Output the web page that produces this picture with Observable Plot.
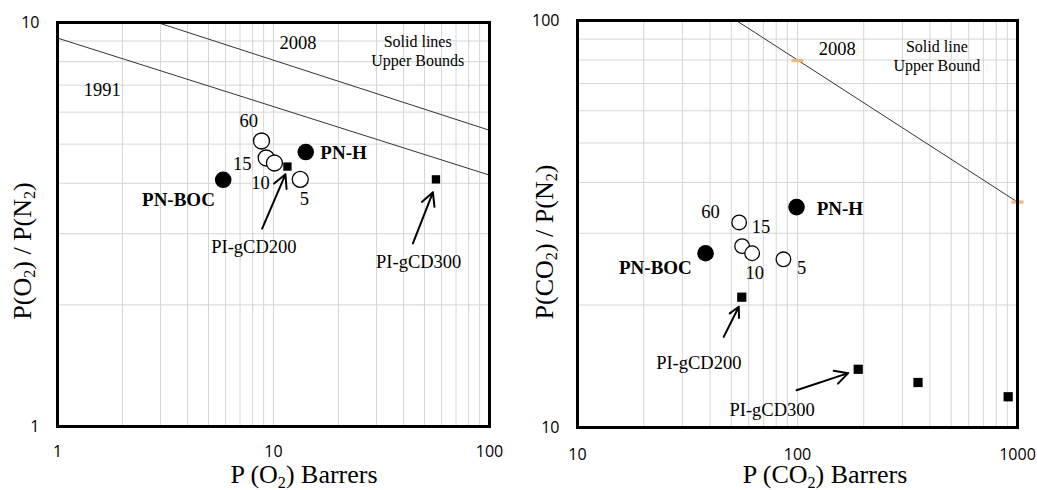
<!DOCTYPE html>
<html><head><meta charset="utf-8">
<script src="https://cdn.jsdelivr.net/npm/d3@7"></script>
<script src="https://cdn.jsdelivr.net/npm/@observablehq/plot@0.6"></script>
<style>
body{margin:0;background:#fff;}
#wrap{position:relative;width:1037px;height:490px;overflow:hidden;background:#fff;}
.panel{position:absolute;top:0;}
.title{position:absolute;font-family:"Liberation Serif",serif;font-size:26px;white-space:nowrap;color:#000;line-height:0.85;}
.title sub{font-size:0.62em;vertical-align:-0.28em;line-height:0;}
.xt{transform:translateX(-50%);}
.yt{transform:translate(-50%,-50%) rotate(-90deg);}
</style></head><body><div id="wrap"></div>
<script>
// ---------- Left panel: O2 / N2 ----------
const o2GridX = [1,2,3,4,5,6,7,8,9,10,20,30,40,50,60,70,80,90,100];
const o2GridY = [1,2,3,4,5,6,7,8,9,10];
const o2TickX = [1,10,100];
const o2TickY = [1,10];
const o2FilledX = [5.85, 14.1];          // PN-BOC, PN-H
const o2FilledY = [4.08, 4.78];
const o2OpenX = [8.8, 9.25, 10.1, 13.3]; // 60, 15, 10, 5
const o2OpenY = [5.09, 4.62, 4.49, 4.09];
const o2SquareX = [11.6, 56.5];          // PI-gCD200, PI-gCD300
const o2SquareY = [4.40, 4.09];
const o2Bound1991X = [1, 100];
const o2Bound1991Y = [9.15, 4.19];
const o2Bound2008X = [2.9, 100];
const o2Bound2008Y = [10, 5.41];
const o2ArrowX1 = [8.86, 44.2];
const o2ArrowY1 = [3.09, 2.84];
const o2ArrowX2 = [11.36, 54.7];
const o2ArrowY2 = [4.21, 3.80];
const o2LabelText = ["1991", "2008", "60", "15", "10", "5", "PI-gCD200", "PI-gCD300"];
const o2LabelX = [1.61, 13.0, 7.69, 7.17, 8.71, 13.9, 8.11, 47];
const o2LabelY = [6.8, 8.89, 5.69, 4.46, 4.0, 3.65, 2.78, 2.55];
const o2NoteText = ["Solid lines\nUpper Bounds"];
const o2NoteX = [46.5];
const o2NoteY = [8.53];
const o2BoldText = ["PN-BOC", "PN-H"];
const o2BoldX = [3.63, 21.1];
const o2BoldY = [3.64, 4.75];

// ---------- Right panel: CO2 / N2 ----------
const co2GridX = [10,20,30,40,50,60,70,80,90,100,200,300,400,500,600,700,800,900,1000];
const co2GridY = [10,20,30,40,50,60,70,80,90,100];
const co2TickX = [10,100,1000];
const co2TickY = [10,100];
const co2FilledX = [38.2, 99];
const co2FilledY = [26.8, 34.8];
const co2OpenX = [54.3, 56.0, 62.2, 86.3];
const co2OpenY = [31.9, 27.9, 26.8, 25.9];
const co2SquareX = [55.8, 188.8, 353, 907];
const co2SquareY = [20.9, 13.9, 12.9, 11.9];
const co2Bound2008X = [52.7, 1000];
const co2Bound2008Y = [100, 35.8];
const co2MarkX = [100, 1000];
const co2MarkY = [79.7, 35.8];
const co2ArrowX1 = [46.2, 99];
const co2ArrowY1 = [16.7, 12.35];
const co2ArrowX2 = [54.1, 170];
const co2ArrowY2 = [19.8, 13.6];
const co2LabelText = ["2008", "60", "15", "10", "5", "PI-gCD200", "PI-gCD300"];
const co2LabelX = [151.6, 40.2, 68.3, 63.9, 104.3, 35.6, 76.7];
const co2LabelY = [85.1, 33.8, 31.0, 24.0, 24.7, 14.36, 11.03];
const co2NoteText = ["Solid line\nUpper Bound"];
const co2NoteX = [430];
const co2NoteY = [82.2];
const co2BoldText = ["PN-BOC", "PN-H"];
const co2BoldX = [22.6, 155.8];
const co2BoldY = [24.7, 34.4];

const SERIF = "Liberation Serif";
const SANS = "Open Sans";
const idx = a => a.map((_, i) => i);

const dash = {draw(ctx) { const w = 6, h = 1.6; ctx.moveTo(-w,-h); ctx.lineTo(w,-h); ctx.lineTo(w,h); ctx.lineTo(-w,h); ctx.closePath(); }};

function panel(cfg) {
  const marks = [
    Plot.gridX(cfg.gridX, {stroke: "#d6d6d6", strokeOpacity: 1, strokeWidth: 1}),
    Plot.gridY(cfg.gridY, {stroke: "#d6d6d6", strokeOpacity: 1, strokeWidth: 1}),
  ];
  for (const b of cfg.bounds) {
    marks.push(Plot.line(idx(b.x), {x: i => b.x[i], y: i => b.y[i], stroke: "#333", strokeWidth: 1, clip: true}));
  }
  if (cfg.markX) {
    marks.push(Plot.dot(idx(cfg.markX), {x: i => cfg.markX[i], y: i => cfg.markY[i], symbol: dash, fill: "#f0b67c", stroke: "none"}));
  }
  marks.push(
    Plot.dot(idx(cfg.openX), {x: i => cfg.openX[i], y: i => cfg.openY[i], r: cfg.rOpen, fill: "white", stroke: "black", strokeWidth: 1.3}),
    Plot.dot(idx(cfg.filledX), {x: i => cfg.filledX[i], y: i => cfg.filledY[i], r: cfg.rFilled, fill: "black", stroke: "none"}),
    Plot.dot(idx(cfg.squareX), {x: i => cfg.squareX[i], y: i => cfg.squareY[i], r: cfg.rSquare, symbol: "square", fill: "black", stroke: "none"}),
    Plot.arrow(idx(cfg.ax1), {x1: i => cfg.ax1[i], y1: i => cfg.ay1[i], x2: i => cfg.ax2[i], y2: i => cfg.ay2[i], stroke: "black", strokeWidth: 2, headLength: 11, headAngle: 55}),
    Plot.text(idx(cfg.labelText), {x: i => cfg.labelX[i], y: i => cfg.labelY[i], text: i => cfg.labelText[i], fontFamily: SERIF, fontSize: 18.5, fill: "black"}),
    Plot.text(idx(cfg.noteText), {x: i => cfg.noteX[i], y: i => cfg.noteY[i], text: i => cfg.noteText[i], fontFamily: SERIF, fontSize: 16, lineHeight: 1.2, fill: "black"}),
    Plot.text(idx(cfg.boldText), {x: i => cfg.boldX[i], y: i => cfg.boldY[i], text: i => cfg.boldText[i], fontFamily: SERIF, fontSize: 19, fontWeight: "bold", fill: "black"}),
    Plot.axisX(cfg.tickX, {tickSize: 0, tickPadding: cfg.padX, tickFormat: d => String(d), fontFamily: SANS, fontSize: 16, label: null}),
    Plot.axisY(cfg.tickY, {tickSize: 0, tickPadding: 18, tickFormat: d => String(d), fontFamily: SANS, fontSize: 16, label: null}),
    Plot.frame({stroke: "black", strokeWidth: 3})
  );
  return Plot.plot({
    width: cfg.width, height: 490,
    marginLeft: 57, marginRight: cfg.mr, marginTop: cfg.mt, marginBottom: cfg.mb,
    style: {fontFamily: SANS, fontSize: "16px", color: "black", background: "white"},
    x: {type: "log", domain: cfg.dx},
    y: {type: "log", domain: cfg.dy},
    marks
  });
}

const left = panel({
  width: 520, mr: 31, mt: 22, mb: 64, padX: 19,
  dx: [1, 100], dy: [1, 10],
  gridX: o2GridX, gridY: o2GridY, tickX: o2TickX, tickY: o2TickY,
  bounds: [{x: o2Bound1991X, y: o2Bound1991Y}, {x: o2Bound2008X, y: o2Bound2008Y}],
  openX: o2OpenX, openY: o2OpenY, filledX: o2FilledX, filledY: o2FilledY,
  squareX: o2SquareX, squareY: o2SquareY, rOpen: 8, rFilled: 8.3, rSquare: 4.7,
  ax1: o2ArrowX1, ay1: o2ArrowY1, ax2: o2ArrowX2, ay2: o2ArrowY2,
  labelText: o2LabelText, labelX: o2LabelX, labelY: o2LabelY,
  noteText: o2NoteText, noteX: o2NoteX, noteY: o2NoteY,
  boldText: o2BoldText, boldX: o2BoldX, boldY: o2BoldY
});
const right = panel({
  width: 517, mr: 20, mt: 20, mb: 63, padX: 21,
  dx: [10, 1000], dy: [10, 100],
  gridX: co2GridX, gridY: co2GridY, tickX: co2TickX, tickY: co2TickY,
  bounds: [{x: co2Bound2008X, y: co2Bound2008Y}],
  markX: co2MarkX, markY: co2MarkY,
  openX: co2OpenX, openY: co2OpenY, filledX: co2FilledX, filledY: co2FilledY,
  squareX: co2SquareX, squareY: co2SquareY, rOpen: 7.3, rFilled: 8.3, rSquare: 5.2,
  ax1: co2ArrowX1, ay1: co2ArrowY1, ax2: co2ArrowX2, ay2: co2ArrowY2,
  labelText: co2LabelText, labelX: co2LabelX, labelY: co2LabelY,
  noteText: co2NoteText, noteX: co2NoteX, noteY: co2NoteY,
  boldText: co2BoldText, boldX: co2BoldX, boldY: co2BoldY
});

const wrap = document.getElementById("wrap");
left.classList.add("panel"); left.style.left = "0px";
right.classList.add("panel"); right.style.left = "520px";
wrap.appendChild(left);
wrap.appendChild(right);

const titles = [
  {html: "P (O<sub>2</sub>) Barrers", cls: "xt", left: 304, top: 464},
  {html: "P (CO<sub>2</sub>) Barrers", cls: "xt", left: 825, top: 464},
  {html: "P(O<sub>2</sub>) / P(N<sub>2</sub>)", cls: "yt", left: 23, top: 251},
  {html: "P(CO<sub>2</sub>) / P(N<sub>2</sub>)", cls: "yt", left: 545, top: 242}
];
for (const t of titles) {
  const d = document.createElement("div");
  d.className = "title " + t.cls;
  d.innerHTML = t.html;
  d.style.left = t.left + "px";
  d.style.top = t.top + "px";
  wrap.appendChild(d);
}
</script></body></html>
